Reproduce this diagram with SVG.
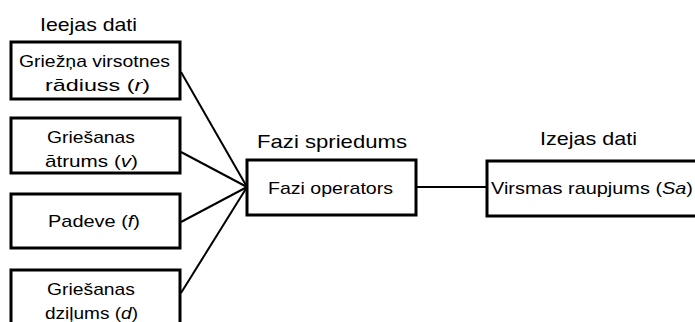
<svg xmlns="http://www.w3.org/2000/svg" width="695" height="322" viewBox="0 0 695 322">
<style>
.box{fill:#fff;stroke:#000;stroke-width:3}
.t{font-family:"Liberation Sans",Arial,sans-serif;font-size:17px;fill:#000}
.h{font-family:"Liberation Sans",Arial,sans-serif;font-size:19px;fill:#000}
.c{stroke:#000;stroke-width:2;fill:none}
</style>
<rect width="695" height="322" fill="#fff"/>
<text class="h" x="40" y="31" textLength="97" lengthAdjust="spacingAndGlyphs">Ieejas dati</text>
<text class="h" x="257" y="148" textLength="150" lengthAdjust="spacingAndGlyphs">Fazi spriedums</text>
<text class="h" x="540" y="145" textLength="97" lengthAdjust="spacingAndGlyphs">Izejas dati</text>
<g id="connectors">
<line class="c" x1="181" y1="72" x2="247" y2="187"/>
<line class="c" x1="181" y1="152" x2="247" y2="187"/>
<line class="c" x1="181" y1="222" x2="247" y2="187"/>
<line class="c" x1="181" y1="293" x2="247" y2="187"/>
<line class="c" x1="417" y1="187" x2="487" y2="187"/>
</g>
<g id="in1">
<rect class="box" x="11" y="42" width="169" height="57"/>
<text class="t" x="19" y="67" textLength="151" lengthAdjust="spacingAndGlyphs">Griežņa virsotnes</text>
<text class="t" x="45" y="91" textLength="105" lengthAdjust="spacingAndGlyphs">rādiuss (<tspan font-style="italic">r</tspan>)</text>
</g>
<g id="in2">
<rect class="box" x="11" y="118" width="169" height="55"/>
<text class="t" x="47" y="143" textLength="88" lengthAdjust="spacingAndGlyphs">Griešanas</text>
<text class="t" x="45" y="167" textLength="93" lengthAdjust="spacingAndGlyphs">ātrums (<tspan font-style="italic">v</tspan>)</text>
</g>
<g id="in3">
<rect class="box" x="11" y="194" width="169" height="54"/>
<text class="t" x="48" y="227" textLength="92" lengthAdjust="spacingAndGlyphs">Padeve (<tspan font-style="italic">f</tspan>)</text>
</g>
<g id="in4">
<rect class="box" x="11" y="270" width="169" height="60"/>
<text class="t" x="47" y="295" textLength="88" lengthAdjust="spacingAndGlyphs">Griešanas</text>
<text class="t" x="45" y="319" textLength="93" lengthAdjust="spacingAndGlyphs">dziļums (<tspan font-style="italic">d</tspan>)</text>
</g>
<g id="fazi">
<rect class="box" x="247" y="160" width="169" height="55"/>
<text class="t" x="268" y="194" textLength="125" lengthAdjust="spacingAndGlyphs">Fazi operators</text>
</g>
<g id="out">
<rect class="box" x="487" y="161" width="212" height="55"/>
<text class="t" x="491" y="194" textLength="202" lengthAdjust="spacingAndGlyphs">Virsmas raupjums (<tspan font-style="italic">Sa</tspan>)</text>
</g>
</svg>
